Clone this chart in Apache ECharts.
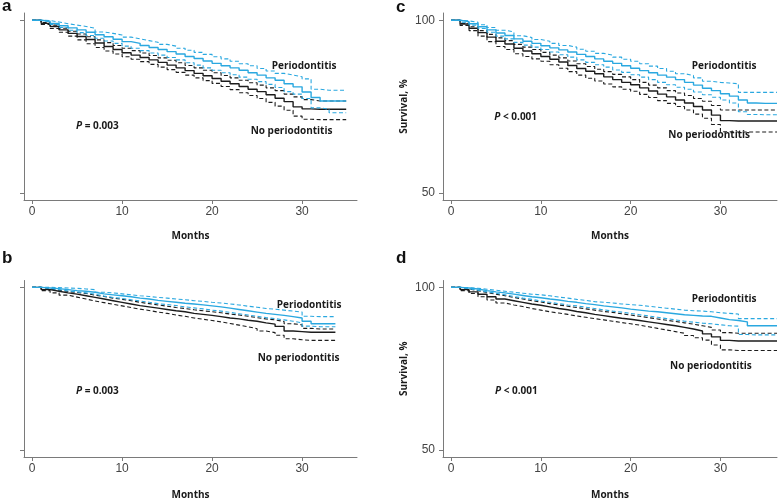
<!DOCTYPE html>
<html>
<head>
<meta charset="utf-8">
<script src="https://cdn.jsdelivr.net/npm/echarts@6/dist/echarts.min.js"></script>
<style>
  html, body { margin: 0; padding: 0; background: #fff; }
  #chart { width: 778px; height: 501px; }
</style>
</head>
<body>
<div id="chart"></div>
<script>
// months (x) for each panel
const tA = [0, 1, 2, 3, 4, 5, 6, 7, 8, 9, 10, 11, 12, 13, 14, 15, 16, 17, 18, 19, 20, 21, 22, 23, 24, 25, 26, 27, 28, 29, 30, 31, 32, 33, 34, 34.9]
const tB = [0, 1, 2, 3, 4, 5, 6, 7, 8, 9, 10, 11, 12, 13, 14, 15, 16, 17, 18, 19, 20, 21, 22, 23, 24, 25, 26, 27, 28, 29, 30, 31, 32, 33, 33.7]
const tC = [0, 1, 2, 3, 4, 5, 6, 7, 8, 9, 10, 11, 12, 13, 14, 15, 16, 17, 18, 19, 20, 21, 22, 23, 24, 25, 26, 27, 28, 29, 30, 31, 32, 33, 34, 35, 36.3]
const tD = [0, 1, 2, 3, 4, 5, 6, 7, 8, 9, 10, 11, 12, 13, 14, 15, 16, 17, 18, 19, 20, 21, 22, 23, 24, 25, 26, 27, 28, 29, 30, 31, 32, 33, 34, 35, 36.3]

// panel a: survival %, periodontitis (blue) / no periodontitis (black), with 95% CI
const aPerUp = [100, 99.9, 99.5, 99.0, 98.6, 98.2, 97.7, 96.6, 96.2, 95.7, 95.1, 94.6, 94.1, 93.6, 93.0, 92.5, 91.9, 91.3, 90.7, 90.1, 89.4, 88.8, 88.1, 87.4, 86.8, 86.0, 85.3, 84.6, 84.1, 83.6, 83.0, 80.0, 79.7, 79.7, 79.7, 79.7]
const aPer = [100, 99.7, 99.1, 98.4, 97.8, 97.2, 96.5, 95.8, 95.2, 94.5, 93.8, 93.3, 92.7, 92.1, 91.5, 90.9, 90.2, 89.5, 88.9, 88.2, 87.5, 86.8, 86.2, 85.5, 84.8, 84.1, 83.3, 82.6, 81.6, 80.7, 79.2, 77.6, 76.6, 76.6, 76.6, 76.6]
const aPerLo = [100, 99.5, 98.8, 97.9, 97.1, 96.4, 95.6, 94.8, 94.0, 93.3, 92.5, 91.9, 91.2, 90.5, 89.9, 89.2, 88.5, 87.7, 87.0, 86.2, 85.5, 84.8, 84.2, 83.5, 82.9, 82.2, 81.4, 80.5, 79.3, 78.6, 77.3, 74.6, 74.2, 73.2, 73.2, 73.2]
const aNoUp = [100, 99.3, 98.6, 97.7, 96.8, 96.0, 95.2, 94.3, 93.5, 92.7, 91.9, 91.2, 90.5, 89.8, 89.1, 88.4, 87.7, 86.9, 86.2, 85.5, 84.8, 84.0, 83.3, 82.6, 81.9, 81.2, 80.4, 79.6, 78.6, 77.8, 77.0, 76.6, 76.6, 76.6, 76.6, 76.6]
const aNo = [100, 99.1, 98.2, 97.2, 96.2, 95.3, 94.4, 93.4, 92.4, 91.5, 90.6, 89.9, 89.2, 88.5, 87.8, 87.0, 86.2, 85.4, 84.6, 83.9, 83.1, 82.3, 81.6, 80.8, 80.0, 79.3, 78.4, 77.4, 76.4, 74.9, 74.3, 74.2, 74.2, 74.2, 74.2, 74.2]
const aNoLo = [100, 98.8, 97.6, 96.5, 95.4, 94.3, 93.2, 92.1, 91.1, 90.2, 89.4, 88.7, 88.0, 87.2, 86.4, 85.7, 84.9, 84.1, 83.3, 82.5, 81.7, 80.8, 79.9, 79.0, 78.2, 77.3, 76.2, 75.1, 73.9, 72.2, 71.3, 71.2, 71.2, 71.2, 71.2, 71.2]

// panel b
const bPerUp = [100, 100, 99.9, 99.8, 99.7, 99.5, 99.3, 98.5, 98.3, 98.0, 97.7, 97.4, 97.2, 96.9, 96.7, 96.4, 96.2, 95.9, 95.7, 95.4, 95.2, 94.9, 94.6, 94.2, 93.9, 93.5, 93.3, 93.0, 92.7, 92.4, 91.1, 91.0, 91.0, 91.0, 91.0]
const bPer = [100, 99.8, 99.6, 99.3, 99.0, 98.8, 98.5, 98.0, 97.7, 97.4, 97.1, 96.7, 96.4, 96.0, 95.7, 95.4, 95.1, 94.9, 94.6, 94.3, 94.0, 93.6, 93.2, 92.8, 92.4, 92.0, 91.7, 91.4, 91.0, 90.6, 89.6, 88.8, 88.8, 88.8, 88.8]
const bPerLo = [100, 99.7, 99.3, 98.9, 98.6, 98.3, 97.9, 97.3, 96.9, 96.6, 96.2, 95.8, 95.4, 95.0, 94.7, 94.4, 94.0, 93.7, 93.4, 93.0, 92.7, 92.3, 91.9, 91.5, 91.1, 90.7, 90.4, 90.0, 89.6, 89.1, 88.1, 87.9, 87.9, 87.9, 87.9]
const bNoUp = [100, 99.5, 99.1, 98.7, 98.4, 98.1, 97.6, 97.2, 96.7, 96.3, 95.9, 95.4, 95.0, 94.6, 94.2, 93.8, 93.5, 93.1, 92.8, 92.5, 92.2, 91.8, 91.5, 91.1, 90.7, 90.3, 90.0, 89.5, 88.8, 88.5, 87.4, 87.2, 87.2, 87.2, 87.2]
const bNo = [100, 99.3, 98.8, 98.3, 97.9, 97.4, 96.9, 96.4, 95.9, 95.4, 94.9, 94.4, 94.0, 93.6, 93.2, 92.8, 92.5, 92.0, 91.7, 91.4, 91.0, 90.6, 90.3, 89.9, 89.6, 89.1, 88.7, 88.0, 86.6, 86.4, 86.2, 86.2, 86.2, 86.2, 86.2]
const bNoLo = [100, 99.0, 98.3, 97.6, 97.0, 96.4, 95.8, 95.3, 94.8, 94.3, 93.8, 93.3, 92.9, 92.4, 92.0, 91.5, 91.1, 90.6, 90.2, 89.8, 89.4, 88.9, 88.4, 87.9, 87.3, 86.6, 86.1, 85.3, 84.2, 83.9, 83.7, 83.7, 83.7, 83.7, 83.7]

// panel c
const cPerUp = [100, 99.8, 99.4, 98.7, 97.9, 97.1, 96.6, 95.5, 95.0, 94.4, 93.9, 93.3, 92.7, 92.2, 91.6, 91.0, 90.4, 89.9, 89.3, 88.7, 88.1, 87.4, 86.7, 86.0, 85.2, 84.5, 84.0, 83.3, 82.3, 82.0, 81.8, 81.6, 79.1, 79.1, 79.1, 79.1, 79.1]
const cPer = [100, 99.6, 99.0, 98.1, 97.2, 96.3, 95.6, 94.6, 93.9, 93.3, 92.6, 92.0, 91.4, 90.8, 90.1, 89.5, 88.8, 88.1, 87.5, 86.8, 86.1, 85.4, 84.8, 84.1, 83.5, 82.8, 82.0, 81.2, 80.3, 79.6, 78.7, 78.0, 76.9, 76.0, 75.9, 75.9, 75.9]
const cPerLo = [100, 99.4, 98.6, 97.6, 96.5, 95.4, 94.6, 93.6, 92.8, 92.2, 91.5, 90.8, 90.0, 89.3, 88.5, 87.8, 87.1, 86.4, 85.6, 84.9, 84.2, 83.5, 82.8, 82.0, 81.3, 80.6, 80.0, 79.2, 78.4, 77.7, 76.9, 76.0, 73.5, 72.7, 72.6, 72.6, 72.6]
const cNoUp = [100, 99.1, 98.1, 97.0, 95.9, 94.9, 94.1, 93.0, 92.2, 91.5, 90.7, 89.9, 89.1, 88.2, 87.4, 86.6, 85.8, 85.1, 84.3, 83.6, 82.8, 82.0, 81.2, 80.4, 79.6, 78.9, 78.2, 77.3, 76.5, 75.3, 74.0, 74.0, 74.0, 74.0, 74.0, 74.0, 74.0]
const cNo = [100, 98.9, 97.7, 96.4, 95.1, 93.9, 93.1, 91.9, 91.1, 90.3, 89.5, 88.7, 87.9, 86.9, 86.0, 85.2, 84.5, 83.6, 82.8, 82.0, 81.3, 80.4, 79.5, 78.6, 77.8, 76.9, 76.0, 75.0, 74.0, 72.5, 70.9, 70.8, 70.8, 70.8, 70.8, 70.8, 70.8]
const cNoLo = [100, 98.5, 97.0, 95.4, 93.8, 92.4, 91.5, 90.3, 89.5, 88.8, 88.1, 87.1, 86.1, 85.1, 84.1, 83.2, 82.4, 81.5, 80.7, 80.0, 79.4, 78.5, 77.6, 76.7, 75.9, 75.0, 74.0, 72.8, 71.6, 69.8, 67.7, 67.6, 67.6, 67.6, 67.6, 67.6, 67.6]

// panel d
const dPerUp = [100, 99.9, 99.7, 99.4, 99.1, 98.8, 98.5, 98.2, 97.9, 97.7, 97.4, 97.0, 96.7, 96.3, 96.0, 95.6, 95.4, 95.2, 94.9, 94.7, 94.5, 94.2, 93.9, 93.6, 93.3, 93.0, 92.8, 92.7, 92.5, 92.2, 92.0, 91.8, 90.4, 90.4, 90.4, 90.4, 90.4]
const dPer = [100, 99.8, 99.5, 99.0, 98.6, 98.3, 97.9, 97.5, 97.1, 96.8, 96.4, 96.1, 95.7, 95.4, 95.0, 94.7, 94.3, 94.0, 93.7, 93.3, 93.0, 92.7, 92.5, 92.2, 91.9, 91.6, 91.4, 91.2, 91.1, 90.6, 90.1, 89.8, 89.4, 88.2, 88.2, 88.2, 88.2]
const dPerLo = [100, 99.6, 99.1, 98.6, 98.2, 97.7, 97.2, 96.7, 96.3, 95.8, 95.4, 95.0, 94.6, 94.3, 93.9, 93.5, 93.1, 92.7, 92.4, 92.0, 91.6, 91.2, 90.8, 90.4, 90.0, 89.6, 89.3, 89.0, 88.8, 88.5, 88.2, 88.1, 85.5, 85.4, 85.4, 85.4, 85.4]
const dNoUp = [100, 99.5, 99.0, 98.4, 97.9, 97.4, 96.9, 96.4, 95.9, 95.5, 95.0, 94.6, 94.2, 93.8, 93.4, 93.0, 92.6, 92.3, 91.9, 91.5, 91.1, 90.7, 90.3, 89.9, 89.5, 89.1, 88.7, 88.2, 87.7, 86.9, 86.1, 85.9, 85.9, 85.9, 85.9, 85.9, 85.9]
const dNo = [100, 99.3, 98.6, 97.9, 97.1, 96.4, 95.9, 95.4, 94.9, 94.5, 94.0, 93.5, 93.1, 92.6, 92.2, 91.7, 91.3, 90.9, 90.5, 90.2, 89.8, 89.4, 89.0, 88.6, 88.2, 87.7, 87.2, 86.6, 85.7, 84.8, 83.7, 83.5, 83.5, 83.5, 83.5, 83.5, 83.5]
const dNoLo = [100, 99.0, 98.1, 97.1, 96.1, 95.2, 94.6, 94.1, 93.5, 93.0, 92.5, 92.1, 91.7, 91.2, 90.8, 90.4, 90.0, 89.6, 89.2, 88.8, 88.4, 87.9, 87.4, 86.9, 86.4, 85.9, 85.2, 84.5, 83.8, 82.3, 80.8, 80.6, 80.6, 80.6, 80.6, 80.6, 80.6]

const xTicks = [0, 10, 20, 30]
const yTicks = [50, 100]

const BLUE = '#2aa8e0'
const BLACK = '#1c1c1c'
const TXT = "'Open Sans', 'Noto Sans', sans-serif"

const chart = echarts.init(document.getElementById('chart'))

const panels = [
  { t: tA, lines: [aNoUp, aNo, aNoLo, aPerUp, aPer, aPerLo], grid: { left: 24, top: 13, width: 333, height: 187 }, xMax: 36.1, yLabels: false, nameGap: 31 },
  { t: tB, lines: [bNoUp, bNo, bNoLo, bPerUp, bPer, bPerLo], grid: { left: 24, top: 280.5, width: 333, height: 187 }, xMax: 36.1, yLabels: false, nameGap: 33 },
  { t: tC, lines: [cNoUp, cNo, cNoLo, cPerUp, cPer, cPerLo], grid: { left: 443, top: 13, width: 334, height: 187 }, xMax: 36.3, yLabels: true, nameGap: 31 },
  { t: tD, lines: [dNoUp, dNo, dNoLo, dPerUp, dPer, dPerLo], grid: { left: 443, top: 280.5, width: 334, height: 187 }, xMax: 36.3, yLabels: true, nameGap: 33 }
]

const axisLine = { show: true, onZero: false, lineStyle: { color: '#7a7a7a', width: 1 } }
const axisTick = { show: true, length: 4, lineStyle: { color: '#7a7a7a' } }

const grid = [], xAxis = [], yAxis = [], series = []
panels.forEach((p, i) => {
  grid.push(p.grid)
  xAxis.push({
    type: 'value', gridIndex: i, min: -0.9, max: p.xMax,
    name: 'Months', nameLocation: 'middle', nameGap: p.nameGap,
    nameTextStyle: { fontFamily: TXT, fontWeight: 'bold', fontSize: 10, color: '#1a1a1a' },
    axisLine, splitLine: { show: false },
    axisTick: { ...axisTick, customValues: xTicks },
    axisLabel: { customValues: xTicks, fontFamily: 'Liberation Sans, Arial', fontSize: 12, color: '#444', margin: 6 }
  })
  yAxis.push({
    type: 'value', gridIndex: i, min: 47.9, max: 102.1,
    name: p.yLabels ? 'Survival, %' : '', nameLocation: 'middle', nameGap: 34,
    nameTextStyle: { fontFamily: TXT, fontWeight: 'bold', fontSize: 10, color: '#1a1a1a' },
    axisLine, splitLine: { show: false },
    axisTick: { ...axisTick, customValues: yTicks },
    axisLabel: { show: p.yLabels, customValues: yTicks, fontFamily: 'Liberation Sans, Arial', fontSize: 12, color: '#444', margin: 8 }
  })
  p.lines.forEach((vals, k) => {
    const blue = k >= 3
    const solid = k % 3 === 1
    series.push({
      type: 'line', xAxisIndex: i, yAxisIndex: i, step: 'end', showSymbol: false, symbol: 'none',
      data: p.t.map((m, j) => [m, vals[j]]),
      lineStyle: { color: blue ? BLUE : BLACK, width: solid ? 1.4 : 1.1, type: solid ? 'solid' : [4, 2.5] },
      z: blue ? 3 : 2
    })
  })
})

function label(x, y, text) {
  return {
    type: 'text', x, y,
    style: {
      text, fill: '#1a1a1a', font: 'bold 10px ' + TXT, textVerticalAlign: 'middle',
      rich: { i: { fontStyle: 'italic', fontWeight: 'bold', fontSize: 10, fontFamily: TXT, fill: '#1a1a1a' } }
    }
  }
}
const letter = (x, y, s) => ({ type: 'text', x, y, style: { text: s, fill: '#111', font: 'bold 17px Liberation Sans, Arial', textVerticalAlign: 'middle' } })

const option = {
  animation: false,
  backgroundColor: '#fff',
  grid, xAxis, yAxis, series,
  graphic: [
    letter(2, 6.5, 'a'), letter(2, 258, 'b'), letter(396, 7.5, 'c'), letter(396, 258, 'd'),
    label(271.7, 66, 'Periodontitis'), label(250.7, 130.7, 'No periodontitis'), label(76, 126, '{i|P} = 0.003'),
    label(276.7, 305, 'Periodontitis'), label(257.7, 358.3, 'No periodontitis'), label(76, 390.7, '{i|P} = 0.003'),
    label(691.7, 65.7, 'Periodontitis'), label(668.3, 135, 'No periodontitis'), label(494.3, 116.7, '{i|P} < 0.001'),
    label(691.7, 299.3, 'Periodontitis'), label(670, 365.7, 'No periodontitis'), label(495, 391.3, '{i|P} < 0.001')
  ]
}

chart.setOption(option)
</script>
</body>
</html>
